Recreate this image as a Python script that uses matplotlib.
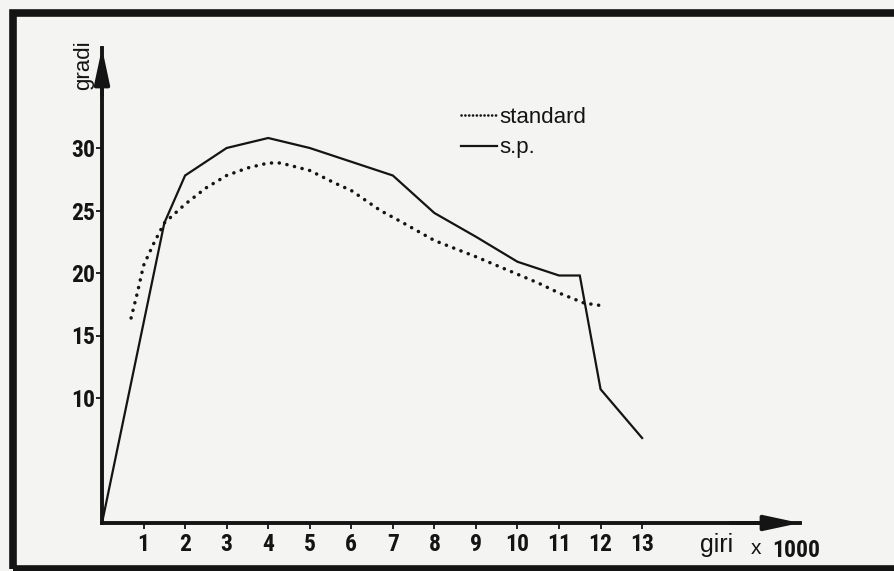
import matplotlib
matplotlib.use('Agg')
import matplotlib.pyplot as plt
from matplotlib.patches import Rectangle
from matplotlib.lines import Line2D

# data (giri x 1000 vs gradi)
sp_x = [0, 1.5, 2, 3, 4, 5, 6, 7, 8, 9, 10, 11, 11.5, 12, 13]
sp_y = [0, 24.0, 27.8, 30.0, 30.8, 30.0, 28.9, 27.8, 24.8, 22.9, 20.9, 19.8, 19.8, 10.7, 6.8]

std_x = [0.7, 0.85, 1.0, 1.25, 1.5, 2.0, 2.5, 3.0, 3.5, 4.0, 4.3, 5.0, 5.6, 6.0,
         6.7, 7.2, 8.0, 9.0, 10.0, 10.5, 11.0, 11.6, 12.0]
std_y = [16.4, 18.4, 20.6, 22.4, 24.0, 25.5, 26.8, 27.8, 28.4, 28.8, 28.8, 28.2, 27.2, 26.6,
         25.0, 24.1, 22.6, 21.3, 19.9, 19.2, 18.4, 17.6, 17.4]

x_ticks = list(range(1, 14))
y_ticks = [10, 15, 20, 25, 30]

INK = '#141414'
PAPER = '#f4f4f2'
BOLD_NARROW = ['Roboto Condensed', 'Liberation Sans Narrow', 'Liberation Sans', 'DejaVu Sans']
PLAIN = ['Liberation Sans', 'DejaVu Sans']

fig = plt.figure(figsize=(8.95, 5.71), dpi=100, facecolor=PAPER)
ax = fig.add_axes([102 / 895, 48 / 571, 698 / 895, 475 / 571])
ax.set_facecolor('none')
ax.set_xlim(0, 16.8)
ax.set_ylim(0, 38)

for s in ['top', 'right']:
    ax.spines[s].set_visible(False)
for s in ['left', 'bottom']:
    ax.spines[s].set_linewidth(2.8)
    ax.spines[s].set_color(INK)

# arrow heads on the axes
arrow = dict(arrowstyle='-|>,head_length=2.1,head_width=0.45', color=INK, lw=2.8,
             shrinkA=0, shrinkB=0)
ax.annotate('', xy=(1, 0), xytext=(0.9, 0), xycoords='axes fraction', arrowprops=arrow)
ax.annotate('', xy=(0, 1), xytext=(0, 0.9), xycoords='axes fraction', arrowprops=arrow)

ax.set_xticks(x_ticks)
ax.set_xticklabels([str(v) for v in x_ticks])
ax.set_yticks(y_ticks)
ax.set_yticklabels([str(v) for v in y_ticks])
ax.tick_params(axis='both', direction='out', length=4.5, width=1.3, color=INK,
               labelcolor=INK, labelsize=17)
ax.tick_params(axis='x', pad=3)
ax.tick_params(axis='y', pad=0.3)
for lab in ax.get_xticklabels() + ax.get_yticklabels():
    lab.set_family(BOLD_NARROW)
    lab.set_fontweight('bold')

ax.plot(sp_x, sp_y, color=INK, lw=1.6, solid_joinstyle='miter', label='s.p.')
ax.plot(std_x, std_y, color=INK, lw=2.5, linestyle=(0, (0.05, 2.2)),
        dash_capstyle='round', label='standard')

# legend
handles = [Line2D([], [], color=INK, lw=1.9, linestyle=(0, (0.05, 1.4)), dash_capstyle='round'),
           Line2D([], [], color=INK, lw=1.6)]
leg = ax.legend(handles, ['standard', 's.p.'], loc='upper left',
                bbox_to_anchor=((461 - 102) / 698, (523 - 107) / 475),
                frameon=False, handlelength=1.6, handletextpad=0.12,
                labelspacing=0.42, borderaxespad=0, borderpad=0,
                prop={'family': PLAIN, 'size': 16})
for t in leg.get_texts():
    t.set_color(INK)

# axis titles
ax.text(-0.026, 0.964, 'gradi', rotation=90, ha='center', va='center',
        transform=ax.transAxes, fontsize=16, family=PLAIN, color=INK)
ax.text(14.78, -2.35, 'giri', ha='center', va='baseline', fontsize=18,
        family=PLAIN, color=INK, clip_on=False)
ax.text(15.75, -2.5, 'x', ha='center', va='baseline', fontsize=15,
        family=PLAIN, color=INK, clip_on=False)
ax.text(16.72, -2.72, '1000', ha='center', va='baseline', fontsize=17,
        family=BOLD_NARROW, fontweight='bold', color=INK, clip_on=False)

# thick printed frame (right edge runs off the scan)
fig.patches.append(Rectangle((13.5 / 895, 2 / 571), 1.1, 556 / 571,
                             transform=fig.transFigure, fill=False,
                             lw=5.5, edgecolor=INK))

fig.savefig('out.png', dpi=100, facecolor=PAPER)
